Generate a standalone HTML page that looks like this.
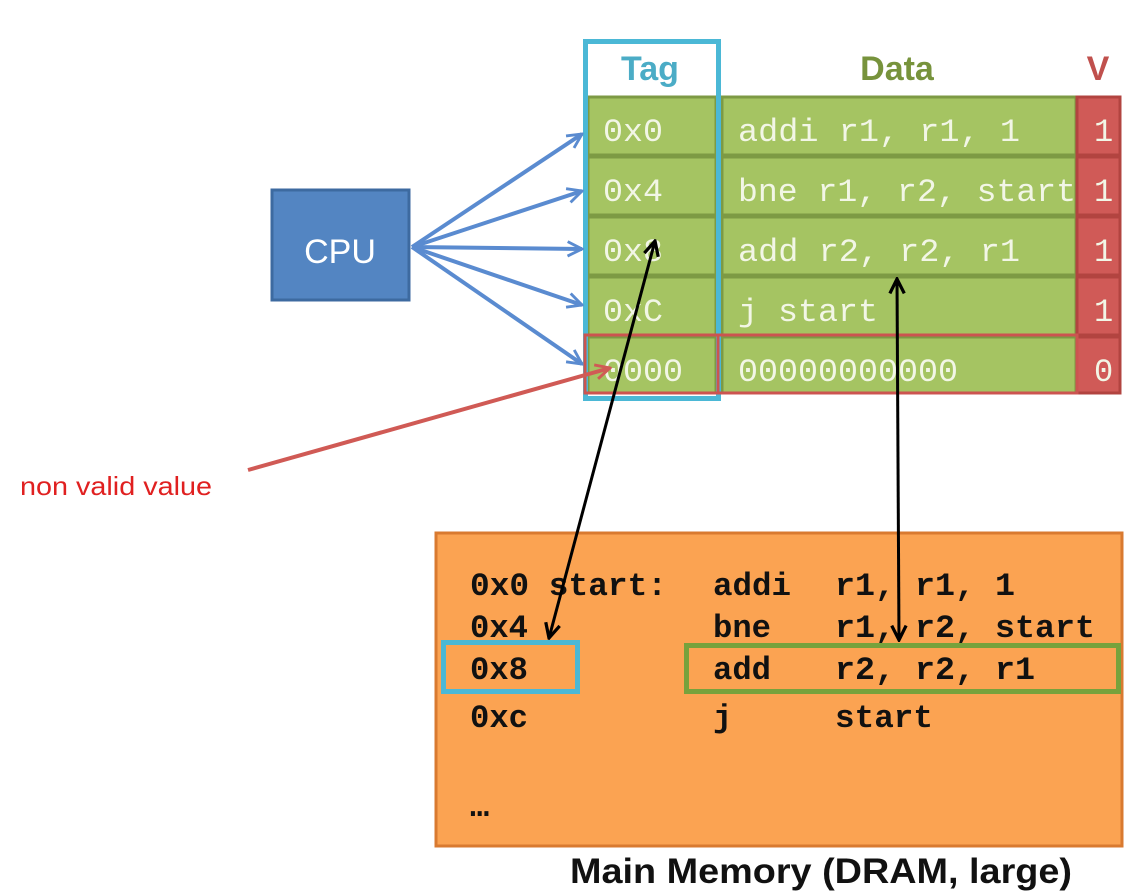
<!DOCTYPE html>
<html><head><meta charset="utf-8"><style>
html,body{margin:0;padding:0;background:#fff;width:1132px;height:895px;overflow:hidden}
svg{display:block}
.m{font-family:"Liberation Mono",monospace;font-size:32px;fill:#f2f6e6}
.mm{font-family:"Liberation Mono",monospace;font-size:32px;font-weight:bold;fill:#111}
.s{font-family:"Liberation Sans",sans-serif;font-weight:bold}
</style></head><body>
<svg width="1132" height="895" viewBox="0 0 1132 895">
<defs>
<marker id="ab" viewBox="0 0 10 10" refX="9" refY="5" markerWidth="18" markerHeight="18" orient="auto-start-reverse" markerUnits="userSpaceOnUse"><path d="M1,1 L9,5 L1,9" fill="none" stroke="#5a8bd0" stroke-width="1.6"/></marker>
<marker id="ar" viewBox="0 0 10 10" refX="9" refY="5" markerWidth="18" markerHeight="18" orient="auto" markerUnits="userSpaceOnUse"><path d="M1,1 L9,5 L1,9" fill="none" stroke="#d05a55" stroke-width="1.6"/></marker>
<marker id="ak" viewBox="0 0 10 10" refX="9" refY="5" markerWidth="18" markerHeight="18" orient="auto-start-reverse" markerUnits="userSpaceOnUse"><path d="M1,1 L9,5 L1,9" fill="none" stroke="#000" stroke-width="1.8"/></marker>
</defs>
<text x="650" y="80" text-anchor="middle" class="s" font-size="34" fill="#4bacc6">Tag</text>
<text x="897" y="80" text-anchor="middle" class="s" font-size="34" fill="#77933c">Data</text>
<text x="1098" y="80" text-anchor="middle" class="s" font-size="34" fill="#c0504d">V</text>
<g fill="#a5c462" stroke="#7d9a44" stroke-width="3">
<rect x="588" y="97" width="128" height="58"/><rect x="722" y="97" width="354" height="58"/>
<rect x="588" y="157" width="128" height="58"/><rect x="722" y="157" width="354" height="58"/>
<rect x="588" y="217" width="128" height="58"/><rect x="722" y="217" width="354" height="58"/>
<rect x="588" y="277" width="128" height="58"/><rect x="722" y="277" width="354" height="58"/>
<rect x="588" y="337" width="128" height="56"/><rect x="722" y="337" width="354" height="56"/>
</g>
<g fill="#d05a57" stroke="#b24440" stroke-width="3">
<rect x="1077" y="97" width="43" height="58"/><rect x="1077" y="157" width="43" height="58"/>
<rect x="1077" y="217" width="43" height="58"/><rect x="1077" y="277" width="43" height="58"/>
<rect x="1077" y="337" width="43" height="56"/>
</g>
<rect x="585.5" y="41.5" width="133" height="357" fill="none" stroke="#4bb8d6" stroke-width="5"/>
<g>
<text x="603" y="141" class="m" textLength="60" lengthAdjust="spacingAndGlyphs">0x0</text><text x="738" y="141" class="m" textLength="282" lengthAdjust="spacingAndGlyphs">addi r1, r1, 1</text>
<text x="603" y="201" class="m" textLength="60" lengthAdjust="spacingAndGlyphs">0x4</text><text x="738" y="201" class="m" textLength="338" lengthAdjust="spacingAndGlyphs">bne r1, r2, start</text>
<text x="603" y="261" class="m" textLength="60" lengthAdjust="spacingAndGlyphs">0x8</text><text x="738" y="261" class="m" textLength="282" lengthAdjust="spacingAndGlyphs">add r2, r2, r1</text>
<text x="603" y="321" class="m" textLength="60" lengthAdjust="spacingAndGlyphs">0xC</text><text x="738" y="321" class="m" textLength="140" lengthAdjust="spacingAndGlyphs">j start</text>
<text x="603" y="381" class="m" textLength="80" lengthAdjust="spacingAndGlyphs">0000</text><text x="738" y="381" class="m" textLength="220" lengthAdjust="spacingAndGlyphs">00000000000</text>
<text x="1094" y="141" class="m">1</text><text x="1094" y="201" class="m">1</text><text x="1094" y="261" class="m">1</text><text x="1094" y="321" class="m">1</text><text x="1094" y="381" class="m">0</text>
</g>
<rect x="585" y="335" width="492" height="58" fill="none" stroke="#cc5450" stroke-width="3"/>
<line x1="718" y1="335" x2="718" y2="393" stroke="#cc5450" stroke-width="3"/>
<rect x="272" y="190" width="137" height="110" fill="#5385c2" stroke="#3d6aa0" stroke-width="3"/>
<text x="340" y="263" text-anchor="middle" font-family="Liberation Sans,sans-serif" font-size="34" fill="#fff">CPU</text>
<g stroke="#5a8bd0" stroke-width="4" fill="none" marker-end="url(#ab)">
<line x1="412" y1="247" x2="582" y2="134"/>
<line x1="412" y1="247" x2="582" y2="191"/>
<line x1="412" y1="247" x2="582" y2="249"/>
<line x1="412" y1="247" x2="582" y2="305"/>
<line x1="412" y1="247" x2="582" y2="364"/>
</g>
<line x1="248" y1="470" x2="610" y2="368" stroke="#d05a55" stroke-width="4" marker-end="url(#ar)"/>
<text x="20" y="495" font-family="Liberation Sans,sans-serif" font-size="26" fill="#e02020" textLength="192" lengthAdjust="spacingAndGlyphs">non valid value</text>
<rect x="436" y="533" width="686" height="313" fill="#fba352" stroke="#d97a30" stroke-width="3"/>
<g>
<text x="470" y="595" class="mm" textLength="197" lengthAdjust="spacingAndGlyphs">0x0 start:</text>
<text x="713" y="595" class="mm" textLength="78" lengthAdjust="spacingAndGlyphs">addi</text><text x="835" y="595" class="mm" textLength="180" lengthAdjust="spacingAndGlyphs">r1, r1, 1</text>
<text x="470" y="637" class="mm" textLength="58" lengthAdjust="spacingAndGlyphs">0x4</text>
<text x="713" y="637" class="mm" textLength="58" lengthAdjust="spacingAndGlyphs">bne</text><text x="835" y="637" class="mm" textLength="260" lengthAdjust="spacingAndGlyphs">r1, r2, start</text>
<text x="470" y="679" class="mm" textLength="58" lengthAdjust="spacingAndGlyphs">0x8</text>
<text x="713" y="679" class="mm" textLength="58" lengthAdjust="spacingAndGlyphs">add</text><text x="835" y="679" class="mm" textLength="200" lengthAdjust="spacingAndGlyphs">r2, r2, r1</text>
<text x="470" y="727" class="mm" textLength="58" lengthAdjust="spacingAndGlyphs">0xc</text>
<text x="713" y="727" class="mm">j</text><text x="835" y="727" class="mm" textLength="98" lengthAdjust="spacingAndGlyphs">start</text>
<text x="470" y="816" class="mm" font-size="20">…</text>
</g>
<rect x="443.5" y="642.5" width="134" height="49" fill="none" stroke="#4bb8d6" stroke-width="5"/>
<rect x="686.5" y="645.5" width="432" height="46" fill="none" stroke="#77a23c" stroke-width="5"/>
<line x1="549" y1="638" x2="655" y2="241" stroke="#000" stroke-width="3" marker-start="url(#ak)" marker-end="url(#ak)"/>
<line x1="899" y1="640" x2="897" y2="279" stroke="#000" stroke-width="3" marker-start="url(#ak)" marker-end="url(#ak)"/>
<text x="570" y="883" class="s" font-size="35" fill="#111" textLength="502" lengthAdjust="spacingAndGlyphs">Main Memory (DRAM, large)</text>
</svg>
</body></html>
